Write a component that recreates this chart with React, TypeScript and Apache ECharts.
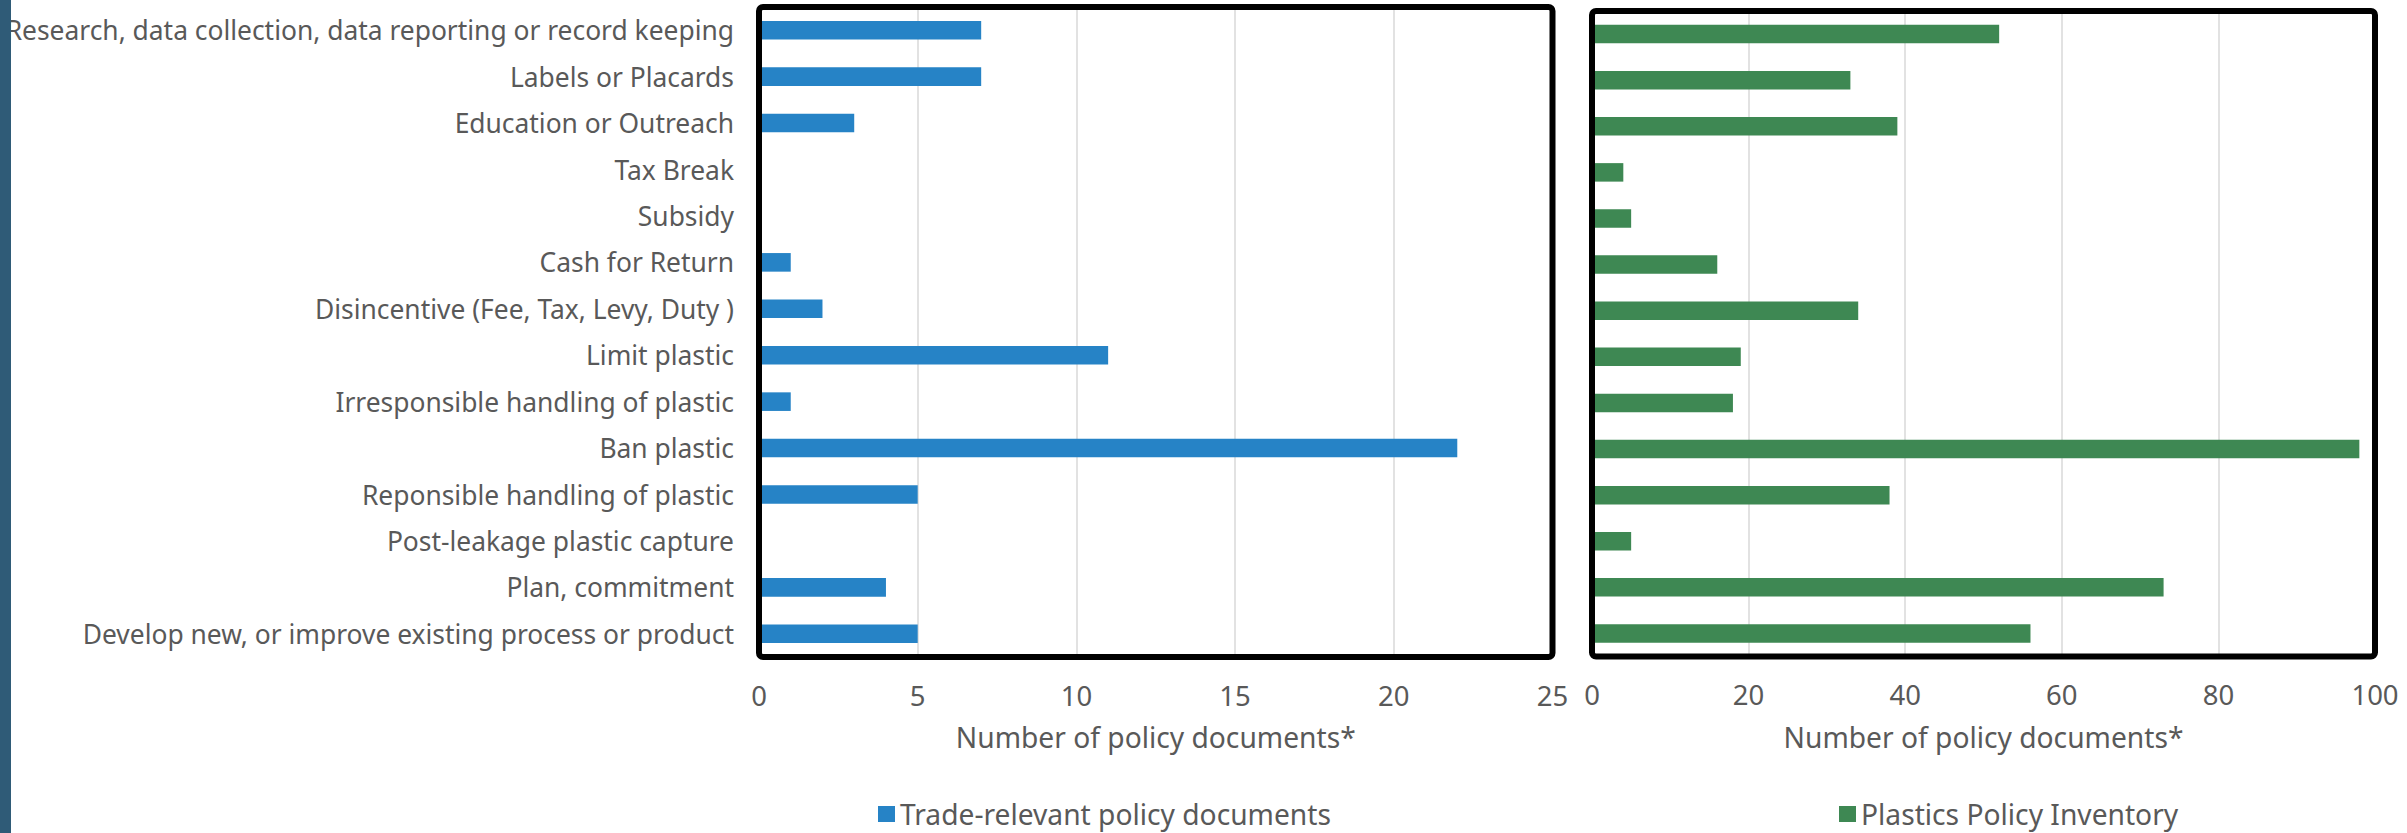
import React, { useEffect, useRef } from "react";
import * as echarts from "echarts";

const categories: string[] = [
  "Research, data collection, data reporting or record keeping",
  "Labels or Placards",
  "Education or Outreach",
  "Tax Break",
  "Subsidy",
  "Cash for Return",
  "Disincentive (Fee, Tax, Levy, Duty )",
  "Limit plastic",
  "Irresponsible handling of plastic",
  "Ban plastic",
  "Reponsible handling of plastic",
  "Post-leakage plastic capture",
  "Plan, commitment",
  "Develop new, or improve existing process or product",
];

const tradeName = "Trade-relevant policy documents";
const tradeValues: number[] = [7, 7, 3, 0, 0, 1, 2, 11, 1, 22, 5, 0, 4, 5];

const inventoryName = "Plastics Policy Inventory";
const inventoryValues: number[] = [52, 33, 39, 4, 5, 16, 34, 19, 18, 98, 38, 5, 73, 56];

const xAxisName = "Number of policy documents*";

const FONT = "'Noto Sans', 'Open Sans', sans-serif";
const TEXT = "#595959";
const FS_CAT = 26.4;
const FS_TICK = 27.5;
const FS_NAME = 28.2;

const G0 = { left: 759, top: 7, width: 793.5, height: 650 };
const G1 = { left: 1592, top: 11, width: 783, height: 645.5 };

export default function App() {
  const ref = useRef<HTMLDivElement>(null);
  useEffect(() => {
    if (!ref.current) return;
    const chart = echarts.init(ref.current, undefined, { renderer: "svg" });
    const xCommon = (g: number, max: number, interval: number) => ({
      type: "value",
      gridIndex: g,
      min: 0,
      max,
      interval,
      axisLine: { show: false },
      axisTick: { show: false },
      splitLine: { show: true, lineStyle: { color: "#d9d9d9", width: 1.5 } },
      axisLabel: { color: TEXT, fontSize: FS_TICK, fontFamily: FONT, margin: 24 },
      name: xAxisName,
      nameLocation: "middle",
      nameGap: 66,
      nameTextStyle: { color: TEXT, fontSize: FS_NAME, fontFamily: FONT },
    });
    const frame = (g: typeof G0) => ({
      type: "rect",
      z: 100,
      silent: true,
      shape: { x: g.left, y: g.top, width: g.width, height: g.height, r: 4 },
      style: { fill: "none", stroke: "#000", lineWidth: 6 },
    });
    const legendStyle = {
      icon: "rect",
      itemWidth: 17,
      itemHeight: 16,
      textStyle: { color: TEXT, fontSize: FS_NAME, fontFamily: FONT },
    };
    chart.setOption({
      animation: false,
      backgroundColor: "#ffffff",
      textStyle: { fontFamily: FONT },
      grid: [
        { ...G0, containLabel: false },
        { ...G1, containLabel: false },
      ],
      xAxis: [xCommon(0, 25, 5), xCommon(1, 100, 20)],
      yAxis: [
        {
          type: "category",
          gridIndex: 0,
          data: categories,
          inverse: true,
          axisLine: { show: false },
          axisTick: { show: false },
          axisLabel: { color: TEXT, fontSize: FS_CAT, fontFamily: FONT, margin: 25 },
        },
        {
          type: "category",
          gridIndex: 1,
          data: categories,
          inverse: true,
          axisLine: { show: false },
          axisTick: { show: false },
          axisLabel: { show: false },
        },
      ],
      legend: [
        { ...legendStyle, data: [tradeName], left: 873, top: 795 },
        { ...legendStyle, data: [inventoryName], left: 1834, top: 795 },
      ],
      series: [
        {
          type: "bar",
          name: tradeName,
          xAxisIndex: 0,
          yAxisIndex: 0,
          data: tradeValues,
          barWidth: 18.6,
          itemStyle: { color: "#2683C6" },
        },
        {
          type: "bar",
          name: inventoryName,
          xAxisIndex: 1,
          yAxisIndex: 1,
          data: inventoryValues,
          barWidth: 18.5,
          itemStyle: { color: "#3E8853" },
        },
      ],
      graphic: [
        frame(G0),
        frame(G1),
        {
          type: "rect",
          z: 101,
          silent: true,
          shape: { x: 0, y: 0, width: 11, height: 833 },
          style: { fill: "#2F5B77" },
        },
      ],
    });
    return () => chart.dispose();
  }, []);
  return (
    <div
      ref={ref}
      style={{ position: "absolute", left: 0, top: 0, width: 2407, height: 833 }}
    />
  );
}
